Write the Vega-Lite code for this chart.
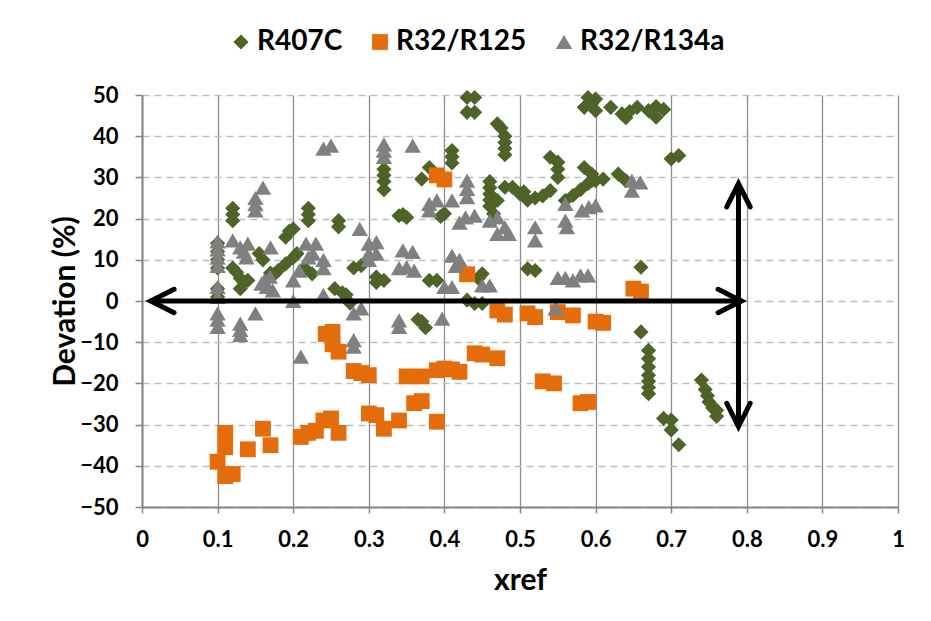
{
  "$schema": "https://vega.github.io/schema/vega-lite/v6.json",
  "width": 756,
  "height": 412,
  "autosize": {"type": "none"},
  "padding": {"left": 142, "top": 95, "right": 33, "bottom": 114},
  "background": "white",
  "config": {
    "view": {"stroke": null},
    "font": "Lato",
    "axis": {
      "labelFont": "Lato", "labelFontWeight": "bold", "labelFontSize": 22, "labelColor": "black",
      "titleFont": "Lato", "titleFontWeight": "bold", "titleFontSize": 30, "titleColor": "black",
      "domainColor": "#868686", "domainWidth": 2, "tickColor": "#868686", "tickWidth": 1.5
    },
    "legend": {"labelFont": "Lato", "labelFontWeight": "bold", "labelFontSize": 28, "labelColor": "black"}
  },
  "layer": [
    {
      "data": {
        "values": [
          {"series": "R407C", "xref": 0.10, "dev": 14},
          {"series": "R407C", "xref": 0.10, "dev": 12},
          {"series": "R407C", "xref": 0.10, "dev": 10},
          {"series": "R407C", "xref": 0.10, "dev": 8},
          {"series": "R407C", "xref": 0.10, "dev": 3},
          {"series": "R407C", "xref": 0.10, "dev": 1},
          {"series": "R407C", "xref": 0.12, "dev": 22.5},
          {"series": "R407C", "xref": 0.12, "dev": 21},
          {"series": "R407C", "xref": 0.12, "dev": 19.5},
          {"series": "R407C", "xref": 0.12, "dev": 8},
          {"series": "R407C", "xref": 0.125, "dev": 7},
          {"series": "R407C", "xref": 0.13, "dev": 5.5},
          {"series": "R407C", "xref": 0.135, "dev": 4.5},
          {"series": "R407C", "xref": 0.13, "dev": 3},
          {"series": "R407C", "xref": 0.14, "dev": 5},
          {"series": "R407C", "xref": 0.155, "dev": 11.5},
          {"series": "R407C", "xref": 0.16, "dev": 10},
          {"series": "R407C", "xref": 0.17, "dev": 6.8},
          {"series": "R407C", "xref": 0.175, "dev": 6.5},
          {"series": "R407C", "xref": 0.18, "dev": 7.4},
          {"series": "R407C", "xref": 0.19, "dev": 15.5},
          {"series": "R407C", "xref": 0.195, "dev": 17},
          {"series": "R407C", "xref": 0.20, "dev": 17.5},
          {"series": "R407C", "xref": 0.19, "dev": 9},
          {"series": "R407C", "xref": 0.20, "dev": 10.5},
          {"series": "R407C", "xref": 0.205, "dev": 11.5},
          {"series": "R407C", "xref": 0.215, "dev": 8},
          {"series": "R407C", "xref": 0.225, "dev": 6.6},
          {"series": "R407C", "xref": 0.22, "dev": 22.5},
          {"series": "R407C", "xref": 0.22, "dev": 21},
          {"series": "R407C", "xref": 0.22, "dev": 19.5},
          {"series": "R407C", "xref": 0.26, "dev": 19.5},
          {"series": "R407C", "xref": 0.26, "dev": 18},
          {"series": "R407C", "xref": 0.255, "dev": 3},
          {"series": "R407C", "xref": 0.265, "dev": 2},
          {"series": "R407C", "xref": 0.275, "dev": -0.5},
          {"series": "R407C", "xref": 0.27, "dev": 1.5},
          {"series": "R407C", "xref": 0.28, "dev": 8},
          {"series": "R407C", "xref": 0.29, "dev": 8.6},
          {"series": "R407C", "xref": 0.31, "dev": 5.8},
          {"series": "R407C", "xref": 0.32, "dev": 5},
          {"series": "R407C", "xref": 0.31, "dev": 4.5},
          {"series": "R407C", "xref": 0.32, "dev": 32},
          {"series": "R407C", "xref": 0.32, "dev": 30.5},
          {"series": "R407C", "xref": 0.32, "dev": 29},
          {"series": "R407C", "xref": 0.32, "dev": 27},
          {"series": "R407C", "xref": 0.34, "dev": 20.7},
          {"series": "R407C", "xref": 0.35, "dev": 20.3},
          {"series": "R407C", "xref": 0.345, "dev": 21},
          {"series": "R407C", "xref": 0.37, "dev": 29.6},
          {"series": "R407C", "xref": 0.38, "dev": 32.4},
          {"series": "R407C", "xref": 0.37, "dev": -5},
          {"series": "R407C", "xref": 0.375, "dev": -6.5},
          {"series": "R407C", "xref": 0.365, "dev": -4.5},
          {"series": "R407C", "xref": 0.38, "dev": 5},
          {"series": "R407C", "xref": 0.39, "dev": 5},
          {"series": "R407C", "xref": 0.40, "dev": 21.2},
          {"series": "R407C", "xref": 0.395, "dev": 20.5},
          {"series": "R407C", "xref": 0.41, "dev": 36.5},
          {"series": "R407C", "xref": 0.41, "dev": 35},
          {"series": "R407C", "xref": 0.41, "dev": 33.5},
          {"series": "R407C", "xref": 0.43, "dev": 49.4},
          {"series": "R407C", "xref": 0.44, "dev": 49.4},
          {"series": "R407C", "xref": 0.43, "dev": 45.8},
          {"series": "R407C", "xref": 0.44, "dev": 45.8},
          {"series": "R407C", "xref": 0.43, "dev": 0.2},
          {"series": "R407C", "xref": 0.44, "dev": -0.6},
          {"series": "R407C", "xref": 0.45, "dev": -0.6},
          {"series": "R407C", "xref": 0.45, "dev": 6.6},
          {"series": "R407C", "xref": 0.445, "dev": 5.5},
          {"series": "R407C", "xref": 0.46, "dev": 29},
          {"series": "R407C", "xref": 0.46, "dev": 27.5},
          {"series": "R407C", "xref": 0.46, "dev": 26},
          {"series": "R407C", "xref": 0.46, "dev": 24.5},
          {"series": "R407C", "xref": 0.46, "dev": 23},
          {"series": "R407C", "xref": 0.47, "dev": 43},
          {"series": "R407C", "xref": 0.475, "dev": 42},
          {"series": "R407C", "xref": 0.48, "dev": 40},
          {"series": "R407C", "xref": 0.48, "dev": 38.5},
          {"series": "R407C", "xref": 0.48, "dev": 37},
          {"series": "R407C", "xref": 0.48, "dev": 35.5},
          {"series": "R407C", "xref": 0.465, "dev": 21.2},
          {"series": "R407C", "xref": 0.47, "dev": 24.4},
          {"series": "R407C", "xref": 0.48, "dev": 27.6},
          {"series": "R407C", "xref": 0.49, "dev": 27.6},
          {"series": "R407C", "xref": 0.50, "dev": 26},
          {"series": "R407C", "xref": 0.505, "dev": 26.5},
          {"series": "R407C", "xref": 0.51, "dev": 24.5},
          {"series": "R407C", "xref": 0.52, "dev": 25},
          {"series": "R407C", "xref": 0.53, "dev": 25.5},
          {"series": "R407C", "xref": 0.54, "dev": 26.8},
          {"series": "R407C", "xref": 0.51, "dev": 7.8},
          {"series": "R407C", "xref": 0.52, "dev": 7.4},
          {"series": "R407C", "xref": 0.54, "dev": 34.9},
          {"series": "R407C", "xref": 0.55, "dev": 33.7},
          {"series": "R407C", "xref": 0.55, "dev": 32},
          {"series": "R407C", "xref": 0.55, "dev": 30},
          {"series": "R407C", "xref": 0.56, "dev": 24.4},
          {"series": "R407C", "xref": 0.57, "dev": 25.6},
          {"series": "R407C", "xref": 0.58, "dev": 27},
          {"series": "R407C", "xref": 0.59, "dev": 28.5},
          {"series": "R407C", "xref": 0.595, "dev": 29.2},
          {"series": "R407C", "xref": 0.585, "dev": 32.4},
          {"series": "R407C", "xref": 0.595, "dev": 30.8},
          {"series": "R407C", "xref": 0.60, "dev": 29.2},
          {"series": "R407C", "xref": 0.61, "dev": 29.6},
          {"series": "R407C", "xref": 0.59, "dev": 49.4},
          {"series": "R407C", "xref": 0.60, "dev": 49},
          {"series": "R407C", "xref": 0.585, "dev": 47},
          {"series": "R407C", "xref": 0.60, "dev": 46.2},
          {"series": "R407C", "xref": 0.595, "dev": 48},
          {"series": "R407C", "xref": 0.62, "dev": 47},
          {"series": "R407C", "xref": 0.635, "dev": 45.4},
          {"series": "R407C", "xref": 0.64, "dev": 44.5},
          {"series": "R407C", "xref": 0.645, "dev": 46},
          {"series": "R407C", "xref": 0.655, "dev": 47},
          {"series": "R407C", "xref": 0.67, "dev": 46.2},
          {"series": "R407C", "xref": 0.68, "dev": 47.2},
          {"series": "R407C", "xref": 0.68, "dev": 44.6},
          {"series": "R407C", "xref": 0.69, "dev": 46.5},
          {"series": "R407C", "xref": 0.63, "dev": 30.8},
          {"series": "R407C", "xref": 0.64, "dev": 29.2},
          {"series": "R407C", "xref": 0.66, "dev": 8.2},
          {"series": "R407C", "xref": 0.66, "dev": -7.5},
          {"series": "R407C", "xref": 0.67, "dev": -12},
          {"series": "R407C", "xref": 0.67, "dev": -14},
          {"series": "R407C", "xref": 0.67, "dev": -16},
          {"series": "R407C", "xref": 0.67, "dev": -18},
          {"series": "R407C", "xref": 0.67, "dev": -19.5},
          {"series": "R407C", "xref": 0.67, "dev": -21},
          {"series": "R407C", "xref": 0.67, "dev": -22.5},
          {"series": "R407C", "xref": 0.70, "dev": 34.5},
          {"series": "R407C", "xref": 0.71, "dev": 35.3},
          {"series": "R407C", "xref": 0.69, "dev": -28.5},
          {"series": "R407C", "xref": 0.70, "dev": -28.9},
          {"series": "R407C", "xref": 0.70, "dev": -31.3},
          {"series": "R407C", "xref": 0.71, "dev": -34.9},
          {"series": "R407C", "xref": 0.74, "dev": -19.2},
          {"series": "R407C", "xref": 0.745, "dev": -21.5},
          {"series": "R407C", "xref": 0.748, "dev": -23},
          {"series": "R407C", "xref": 0.75, "dev": -24.5},
          {"series": "R407C", "xref": 0.755, "dev": -26},
          {"series": "R407C", "xref": 0.76, "dev": -26.5},
          {"series": "R407C", "xref": 0.76, "dev": -28},

          {"series": "R32/R125", "xref": 0.10, "dev": -39},
          {"series": "R32/R125", "xref": 0.11, "dev": -32},
          {"series": "R32/R125", "xref": 0.11, "dev": -35.5},
          {"series": "R32/R125", "xref": 0.11, "dev": -42.5},
          {"series": "R32/R125", "xref": 0.12, "dev": -42},
          {"series": "R32/R125", "xref": 0.14, "dev": -36},
          {"series": "R32/R125", "xref": 0.16, "dev": -31},
          {"series": "R32/R125", "xref": 0.17, "dev": -35},
          {"series": "R32/R125", "xref": 0.21, "dev": -33},
          {"series": "R32/R125", "xref": 0.22, "dev": -32},
          {"series": "R32/R125", "xref": 0.23, "dev": -31.5},
          {"series": "R32/R125", "xref": 0.24, "dev": -29},
          {"series": "R32/R125", "xref": 0.25, "dev": -28.5},
          {"series": "R32/R125", "xref": 0.26, "dev": -32},
          {"series": "R32/R125", "xref": 0.243, "dev": -8},
          {"series": "R32/R125", "xref": 0.252, "dev": -7.5},
          {"series": "R32/R125", "xref": 0.252, "dev": -10.5},
          {"series": "R32/R125", "xref": 0.26, "dev": -12.3},
          {"series": "R32/R125", "xref": 0.28, "dev": -17},
          {"series": "R32/R125", "xref": 0.29, "dev": -17.5},
          {"series": "R32/R125", "xref": 0.30, "dev": -18},
          {"series": "R32/R125", "xref": 0.30, "dev": -27.3},
          {"series": "R32/R125", "xref": 0.31, "dev": -27.7},
          {"series": "R32/R125", "xref": 0.32, "dev": -31},
          {"series": "R32/R125", "xref": 0.34, "dev": -29},
          {"series": "R32/R125", "xref": 0.35, "dev": -18.3},
          {"series": "R32/R125", "xref": 0.37, "dev": -18.3},
          {"series": "R32/R125", "xref": 0.36, "dev": -24.8},
          {"series": "R32/R125", "xref": 0.37, "dev": -24.3},
          {"series": "R32/R125", "xref": 0.39, "dev": -29.3},
          {"series": "R32/R125", "xref": 0.39, "dev": -16.8},
          {"series": "R32/R125", "xref": 0.40, "dev": -16.4},
          {"series": "R32/R125", "xref": 0.41, "dev": -16.6},
          {"series": "R32/R125", "xref": 0.42, "dev": -17.2},
          {"series": "R32/R125", "xref": 0.44, "dev": -12.7},
          {"series": "R32/R125", "xref": 0.45, "dev": -13},
          {"series": "R32/R125", "xref": 0.47, "dev": -13.9},
          {"series": "R32/R125", "xref": 0.47, "dev": -2.3},
          {"series": "R32/R125", "xref": 0.48, "dev": -3.3},
          {"series": "R32/R125", "xref": 0.39, "dev": 30.5},
          {"series": "R32/R125", "xref": 0.40, "dev": 29.5},
          {"series": "R32/R125", "xref": 0.43, "dev": 6.5},
          {"series": "R32/R125", "xref": 0.51, "dev": -3},
          {"series": "R32/R125", "xref": 0.52, "dev": -3.9},
          {"series": "R32/R125", "xref": 0.55, "dev": -2.7},
          {"series": "R32/R125", "xref": 0.57, "dev": -3.5},
          {"series": "R32/R125", "xref": 0.60, "dev": -5},
          {"series": "R32/R125", "xref": 0.61, "dev": -5.3},
          {"series": "R32/R125", "xref": 0.65, "dev": 3},
          {"series": "R32/R125", "xref": 0.66, "dev": 2.3},
          {"series": "R32/R125", "xref": 0.53, "dev": -19.5},
          {"series": "R32/R125", "xref": 0.545, "dev": -20},
          {"series": "R32/R125", "xref": 0.58, "dev": -24.8},
          {"series": "R32/R125", "xref": 0.59, "dev": -24.5},

          {"series": "R32/R134a", "xref": 0.10, "dev": 14.5},
          {"series": "R32/R134a", "xref": 0.10, "dev": 12.5},
          {"series": "R32/R134a", "xref": 0.10, "dev": 10.5},
          {"series": "R32/R134a", "xref": 0.10, "dev": 8.5},
          {"series": "R32/R134a", "xref": 0.10, "dev": 3.4},
          {"series": "R32/R134a", "xref": 0.10, "dev": 1},
          {"series": "R32/R134a", "xref": 0.10, "dev": -3},
          {"series": "R32/R134a", "xref": 0.10, "dev": -4.5},
          {"series": "R32/R134a", "xref": 0.10, "dev": -6.3},
          {"series": "R32/R134a", "xref": 0.12, "dev": 14.7},
          {"series": "R32/R134a", "xref": 0.13, "dev": 13},
          {"series": "R32/R134a", "xref": 0.135, "dev": 12},
          {"series": "R32/R134a", "xref": 0.14, "dev": 13.9},
          {"series": "R32/R134a", "xref": 0.138, "dev": 10.6},
          {"series": "R32/R134a", "xref": 0.13, "dev": -5.5},
          {"series": "R32/R134a", "xref": 0.13, "dev": -7},
          {"series": "R32/R134a", "xref": 0.13, "dev": -8.3},
          {"series": "R32/R134a", "xref": 0.15, "dev": -3},
          {"series": "R32/R134a", "xref": 0.15, "dev": 25},
          {"series": "R32/R134a", "xref": 0.15, "dev": 23.5},
          {"series": "R32/R134a", "xref": 0.15, "dev": 22},
          {"series": "R32/R134a", "xref": 0.16, "dev": 27.5},
          {"series": "R32/R134a", "xref": 0.17, "dev": 13},
          {"series": "R32/R134a", "xref": 0.162, "dev": 5},
          {"series": "R32/R134a", "xref": 0.169, "dev": 5.9},
          {"series": "R32/R134a", "xref": 0.158, "dev": 4.2},
          {"series": "R32/R134a", "xref": 0.165, "dev": 3.4},
          {"series": "R32/R134a", "xref": 0.173, "dev": 2.6},
          {"series": "R32/R134a", "xref": 0.20, "dev": 5},
          {"series": "R32/R134a", "xref": 0.20, "dev": 0},
          {"series": "R32/R134a", "xref": 0.21, "dev": -13.5},
          {"series": "R32/R134a", "xref": 0.208, "dev": 7.4},
          {"series": "R32/R134a", "xref": 0.217, "dev": 13.9},
          {"series": "R32/R134a", "xref": 0.23, "dev": 13.9},
          {"series": "R32/R134a", "xref": 0.226, "dev": 11.5},
          {"series": "R32/R134a", "xref": 0.22, "dev": 10.6},
          {"series": "R32/R134a", "xref": 0.24, "dev": 10},
          {"series": "R32/R134a", "xref": 0.24, "dev": 8},
          {"series": "R32/R134a", "xref": 0.24, "dev": 1.5},
          {"series": "R32/R134a", "xref": 0.24, "dev": 37},
          {"series": "R32/R134a", "xref": 0.25, "dev": 37.7},
          {"series": "R32/R134a", "xref": 0.28, "dev": -3},
          {"series": "R32/R134a", "xref": 0.29, "dev": -1.8},
          {"series": "R32/R134a", "xref": 0.28, "dev": -9.5},
          {"series": "R32/R134a", "xref": 0.28, "dev": -11.1},
          {"series": "R32/R134a", "xref": 0.288, "dev": 17.5},
          {"series": "R32/R134a", "xref": 0.30, "dev": 13.9},
          {"series": "R32/R134a", "xref": 0.31, "dev": 14.3},
          {"series": "R32/R134a", "xref": 0.30, "dev": 11.5},
          {"series": "R32/R134a", "xref": 0.31, "dev": 11.5},
          {"series": "R32/R134a", "xref": 0.30, "dev": 10},
          {"series": "R32/R134a", "xref": 0.32, "dev": 38},
          {"series": "R32/R134a", "xref": 0.32, "dev": 36.5},
          {"series": "R32/R134a", "xref": 0.32, "dev": 35},
          {"series": "R32/R134a", "xref": 0.34, "dev": -4.7},
          {"series": "R32/R134a", "xref": 0.34, "dev": -6.3},
          {"series": "R32/R134a", "xref": 0.345, "dev": 12.3},
          {"series": "R32/R134a", "xref": 0.358, "dev": 11.9},
          {"series": "R32/R134a", "xref": 0.35, "dev": 8.2},
          {"series": "R32/R134a", "xref": 0.36, "dev": 7.4},
          {"series": "R32/R134a", "xref": 0.34, "dev": 8},
          {"series": "R32/R134a", "xref": 0.358, "dev": 37.7},
          {"series": "R32/R134a", "xref": 0.38, "dev": 23.6},
          {"series": "R32/R134a", "xref": 0.39, "dev": 24.4},
          {"series": "R32/R134a", "xref": 0.41, "dev": 24.4},
          {"series": "R32/R134a", "xref": 0.38, "dev": 22},
          {"series": "R32/R134a", "xref": 0.40, "dev": 3.4},
          {"series": "R32/R134a", "xref": 0.41, "dev": 3.4},
          {"series": "R32/R134a", "xref": 0.397, "dev": -4.3},
          {"series": "R32/R134a", "xref": 0.41, "dev": 11},
          {"series": "R32/R134a", "xref": 0.42, "dev": 10},
          {"series": "R32/R134a", "xref": 0.415, "dev": 8.5},
          {"series": "R32/R134a", "xref": 0.42, "dev": 19},
          {"series": "R32/R134a", "xref": 0.428, "dev": 20.3},
          {"series": "R32/R134a", "xref": 0.44, "dev": 20.7},
          {"series": "R32/R134a", "xref": 0.43, "dev": 29.2},
          {"series": "R32/R134a", "xref": 0.43, "dev": 27.2},
          {"series": "R32/R134a", "xref": 0.43, "dev": 25.2},
          {"series": "R32/R134a", "xref": 0.45, "dev": 3.8},
          {"series": "R32/R134a", "xref": 0.46, "dev": 3.8},
          {"series": "R32/R134a", "xref": 0.46, "dev": 19.5},
          {"series": "R32/R134a", "xref": 0.47, "dev": 20.3},
          {"series": "R32/R134a", "xref": 0.48, "dev": 17.9},
          {"series": "R32/R134a", "xref": 0.485, "dev": 16.3},
          {"series": "R32/R134a", "xref": 0.47, "dev": 16.3},
          {"series": "R32/R134a", "xref": 0.52, "dev": 17.9},
          {"series": "R32/R134a", "xref": 0.52, "dev": 14.7},
          {"series": "R32/R134a", "xref": 0.547, "dev": -1.8},
          {"series": "R32/R134a", "xref": 0.55, "dev": 5.6},
          {"series": "R32/R134a", "xref": 0.56, "dev": 5.6},
          {"series": "R32/R134a", "xref": 0.57, "dev": 5},
          {"series": "R32/R134a", "xref": 0.58, "dev": 6.2},
          {"series": "R32/R134a", "xref": 0.59, "dev": 6.2},
          {"series": "R32/R134a", "xref": 0.56, "dev": 23.6},
          {"series": "R32/R134a", "xref": 0.56, "dev": 19.5},
          {"series": "R32/R134a", "xref": 0.562, "dev": 17.9},
          {"series": "R32/R134a", "xref": 0.582, "dev": 22},
          {"series": "R32/R134a", "xref": 0.591, "dev": 22.8},
          {"series": "R32/R134a", "xref": 0.60, "dev": 23.2},
          {"series": "R32/R134a", "xref": 0.648, "dev": 29.2},
          {"series": "R32/R134a", "xref": 0.659, "dev": 28.8},
          {"series": "R32/R134a", "xref": 0.648, "dev": 26.8}
        ]
      },
      "mark": {"type": "point", "filled": true, "opacity": 1, "strokeWidth": 0},
      "encoding": {
        "x": {
          "field": "xref", "type": "quantitative",
          "scale": {"domain": [0, 1], "nice": false, "zero": false},
          "axis": {
            "title": "xref",
            "values": [0, 0.1, 0.2, 0.3, 0.4, 0.5, 0.6, 0.7, 0.8, 0.9, 1],
            "format": "~g",
            "labelFlush": false,
            "labelBaseline": "alphabetic",
            "labelPadding": 33,
            "tickSize": 6,
            "grid": true, "gridColor": "#8c8c8c", "gridWidth": 1.3,
            "titleBaseline": "alphabetic", "titleY": 82
          }
        },
        "y": {
          "field": "dev", "type": "quantitative",
          "scale": {"domain": [-50, 50], "nice": false},
          "axis": {
            "title": "Devation (%)",
            "values": [-50, -40, -30, -20, -10, 0, 10, 20, 30, 40, 50],
            "labelBaseline": "middle",
            "labelPadding": 17,
            "tickSize": 7,
            "grid": true, "gridColor": "#bfbfbf", "gridWidth": 1.5, "gridDash": [7, 5],
            "titleBaseline": "alphabetic", "titleX": -68, "titleY": 206
          }
        },
        "color": {
          "field": "series", "type": "nominal",
          "scale": {"domain": ["R407C", "R32/R125", "R32/R134a"], "range": ["#4f6228", "#e46c0a", "#808080"]},
          "legend": {
            "title": null, "orient": "none", "direction": "horizontal",
            "legendX": 85, "legendY": -67, "padding": 0,
            "symbolSize": 230, "labelOffset": 2, "columnPadding": 23
          }
        },
        "shape": {
          "field": "series", "type": "nominal",
          "scale": {"domain": ["R407C", "R32/R125", "R32/R134a"], "range": ["diamond", "square", "triangle-up"]},
          "legend": {
            "title": null, "orient": "none", "direction": "horizontal",
            "legendX": 85, "legendY": -67, "padding": 0,
            "symbolSize": 230, "labelOffset": 2, "columnPadding": 23
          }
        },
        "size": {
          "field": "series", "type": "nominal",
          "scale": {"domain": ["R407C", "R32/R125", "R32/R134a"], "range": [230, 270, 250]},
          "legend": null
        }
      }
    },
    {
      "data": {
        "values": [
          {"xa": 0.0115, "xb": 0.793, "ya": 0, "yb": 0},
          {"xa": 0.789, "xb": 0.789, "ya": 28.5, "yb": -30.5}
        ]
      },
      "mark": {"type": "rule", "color": "black", "strokeWidth": 5},
      "encoding": {
        "x": {"field": "xa", "type": "quantitative"},
        "x2": {"field": "xb"},
        "y": {"field": "ya", "type": "quantitative"},
        "y2": {"field": "yb"}
      }
    },
    {
      "data": {"name": "heads", "values": [
        {"xa": 0.0115, "ya": 0, "dir": "left"},
        {"xa": 0.793, "ya": 0, "dir": "right"},
        {"xa": 0.789, "ya": 28.5, "dir": "up"},
        {"xa": 0.789, "ya": -30.5, "dir": "down"}
      ]},
      "layer": [
        {
          "transform": [{"filter": "datum.dir === 'right'"}],
          "mark": {"type": "point", "shape": "M-2,-1L0,0L-2,1", "size": 548, "angle": 0, "filled": false, "opacity": 1, "stroke": "black", "strokeWidth": 5, "strokeCap": "round"},
          "encoding": {"x": {"field": "xa", "type": "quantitative"}, "y": {"field": "ya", "type": "quantitative"}}
        },
        {
          "transform": [{"filter": "datum.dir === 'down'"}],
          "mark": {"type": "point", "shape": "M-2,-1L0,0L-2,1", "size": 548, "angle": 90, "filled": false, "opacity": 1, "stroke": "black", "strokeWidth": 5, "strokeCap": "round"},
          "encoding": {"x": {"field": "xa", "type": "quantitative"}, "y": {"field": "ya", "type": "quantitative"}}
        },
        {
          "transform": [{"filter": "datum.dir === 'left'"}],
          "mark": {"type": "point", "shape": "M-2,-1L0,0L-2,1", "size": 548, "angle": 180, "filled": false, "opacity": 1, "stroke": "black", "strokeWidth": 5, "strokeCap": "round"},
          "encoding": {"x": {"field": "xa", "type": "quantitative"}, "y": {"field": "ya", "type": "quantitative"}}
        },
        {
          "transform": [{"filter": "datum.dir === 'up'"}],
          "mark": {"type": "point", "shape": "M-2,-1L0,0L-2,1", "size": 548, "angle": 270, "filled": false, "opacity": 1, "stroke": "black", "strokeWidth": 5, "strokeCap": "round"},
          "encoding": {"x": {"field": "xa", "type": "quantitative"}, "y": {"field": "ya", "type": "quantitative"}}
        }
      ]
    }
  ]
}
